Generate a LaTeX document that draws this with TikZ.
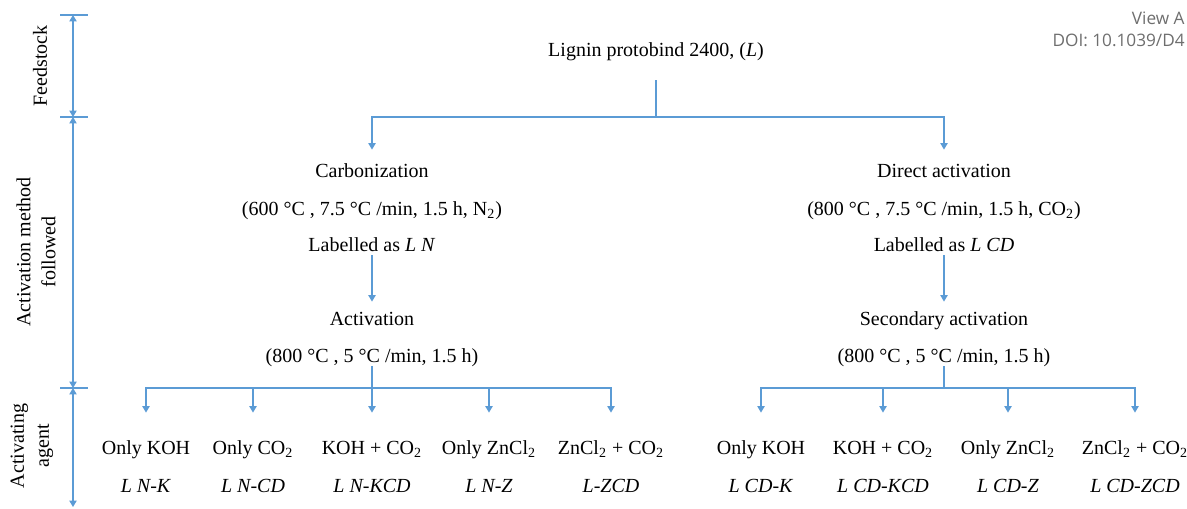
\documentclass[tikz,border=0pt]{standalone}
\usepackage{fontspec}
\setmainfont{Liberation Serif}
\newfontfamily\wmfont{Open Sans}
\usetikzlibrary{arrows.meta}
\definecolor{lnblue}{RGB}{91,155,213}
\definecolor{wmgray}{RGB}{110,110,110}
\tikzset{
  ln/.style={draw=lnblue, line width=0.65pt},
  arr/.style={ln, -{Triangle[width=3.6pt,length=3.2pt]}},
  dbl/.style={ln, {Triangle[width=3.6pt,length=3.2pt]}-{Triangle[width=3.6pt,length=3.2pt]}},
  txt/.style={inner sep=0pt, anchor=base, text height=7pt, text depth=2pt, font=\fontsize{10}{12}\selectfont},
  side/.style={inner sep=0pt, rotate=90, align=center, font=\fontsize{10}{12.5}\selectfont},
  wm/.style={inner sep=0pt, anchor=base east, text=wmgray, font=\wmfont\fontsize{8.6}{10}\selectfont}
}
\begin{document}
\begin{tikzpicture}[x=0.5pt,y=-0.5pt]
\useasboundingbox (0,0) rectangle (1187,508);
\node[wm] (wm1) at (1185,25) {View A};
\node[wm] (wm2) at (1185,47) {DOI: 10.1039/D4};

% left axis
\coordinate (a0) at (73,15);
\coordinate (a1) at (73,117);
\coordinate (a2) at (73,388);
\coordinate (a3) at (73,507);
\foreach \c in {a0,a1,a2}{\draw[ln] ([xshift=-6.5pt]\c) -- ([xshift=7.5pt]\c);}
\draw[dbl] (a0) -- (a1);
\draw[dbl] (a1) -- (a2);
\draw[dbl] (a2) -- (a3);
\node[side] (s1) at (40,66) {Feedstock};
\node[side] (s2) at (36,252) {Activation method\\followed};
\node[side] (s3) at (32,446) {Activating\\agent};

% top
\node[txt] (L) at (656,57) {Lignin protobind 2400, (\textit{L})};
\coordinate (j0) at (656,117);
\draw[ln, shorten <=9.5pt] (L.south) -- (j0);

% left branch
\node[txt] (carb) at (372,177) {Carbonization};
\node[txt] (carbp) at (372,215) {(600 °C , 7.5 °C /min, 1.5 h, N\textsubscript{2})};
\node[txt] (labN) at (372,251) {Labelled as \textit{L N}};
\node[txt] (actN) at (372,325) {Activation};
\node[txt] (actNp) at (372,362) {(800 °C , 5 °C /min, 1.5 h)};
\draw[arr, shorten >=6.5pt] (j0) -| (carb.north);
\draw[arr, shorten >=4.5pt] (labN.south) -- (actN.north);
\coordinate (j1) at (372,388);
\draw[ln] (actNp.south) -- (j1);

\node[txt] (n1) at (146,454) {Only KOH};
\node[txt] (n2) at (253,454) {Only CO\textsubscript{2}};
\node[txt] (n3) at (372,454) {KOH + CO\textsubscript{2}};
\node[txt] (n4) at (489,454) {Only ZnCl\textsubscript{2}};
\node[txt] (n5) at (611,454) {ZnCl\textsubscript{2} + CO\textsubscript{2}};
\node[txt] (m1) at (146,492) {\textit{L N-K}};
\node[txt] (m2) at (253,492) {\textit{L N-CD}};
\node[txt] (m3) at (372,492) {\textit{L N-KCD}};
\node[txt] (m4) at (489,492) {\textit{L N-Z}};
\node[txt] (m5) at (611,492) {\textit{L-ZCD}};
\foreach \n in {n1,n2,n3,n4,n5}{\draw[arr, shorten >=13.5pt] (j1) -| (\n.north);}

% right branch
\node[txt] (dir) at (944,177) {Direct activation};
\node[txt] (dirp) at (944,215) {(800 °C , 7.5 °C /min, 1.5 h, CO\textsubscript{2})};
\node[txt] (labC) at (944,251) {Labelled as \textit{L CD}};
\node[txt] (sec) at (944,325) {Secondary activation};
\node[txt] (secp) at (944,362) {(800 °C , 5 °C /min, 1.5 h)};
\draw[arr, shorten >=6.5pt] (j0) -| (dir.north);
\draw[arr, shorten >=4.5pt] (labC.south) -- (sec.north);
\coordinate (j2) at (944,388);
\draw[ln] (secp.south) -- (j2);

\node[txt] (r1) at (761,454) {Only KOH};
\node[txt] (r2) at (883,454) {KOH + CO\textsubscript{2}};
\node[txt] (r3) at (1008,454) {Only ZnCl\textsubscript{2}};
\node[txt] (r4) at (1135,454) {ZnCl\textsubscript{2} + CO\textsubscript{2}};
\node[txt] (q1) at (761,492) {\textit{L CD-K}};
\node[txt] (q2) at (883,492) {\textit{L CD-KCD}};
\node[txt] (q3) at (1008,492) {\textit{L CD-Z}};
\node[txt] (q4) at (1135,492) {\textit{L CD-ZCD}};
\foreach \n in {r1,r2,r3,r4}{\draw[arr, shorten >=13.5pt] (j2) -| (\n.north);}
\end{tikzpicture}
\end{document}
